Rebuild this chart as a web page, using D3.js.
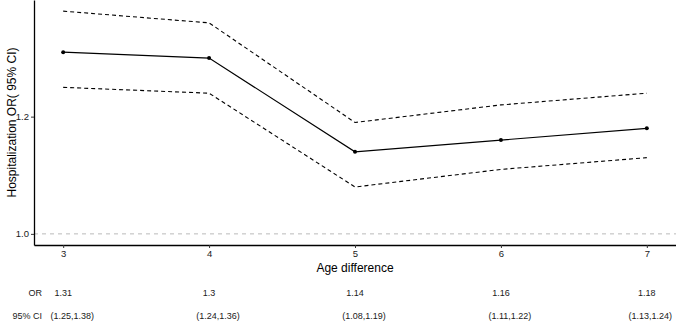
<!DOCTYPE html>
<html>
<head>
<meta charset="utf-8">
<script src="https://cdn.jsdelivr.net/npm/d3@7"></script>
<style>
  html, body { margin: 0; padding: 0; background: #fff; }
  svg { display: block; font-family: "Liberation Sans", Arial, sans-serif; }
</style>
</head>
<body>
<svg id="chart" width="676" height="323"></svg>
<script>
const ageDiff = [3, 4, 5, 6, 7];
const orValues = [1.31, 1.3, 1.14, 1.16, 1.18];
const ciLower = [1.25, 1.24, 1.08, 1.11, 1.13];
const ciUpper = [1.38, 1.36, 1.19, 1.22, 1.24];
const orLabels = ["1.31", "1.3", "1.14", "1.16", "1.18"];
const ciLabels = ["(1.25,1.38)", "(1.24,1.36)", "(1.08,1.19)", "(1.11,1.22)", "(1.13,1.24)"];
const yTicks = [1.0, 1.2];
const refValue = 1.0;

const svg = d3.select("#chart");
const mLeft = 34, mTop = 0, mBottom = 245, mRight = 676;

const x = d3.scaleLinear().domain([2.8, 7.2]).range([mLeft, mRight]);
const y = d3.scaleLinear().domain([0.981, 1.399]).range([mBottom, mTop]);

const rows = ageDiff.map((a, i) => ({ a, or: orValues[i], lo: ciLower[i], hi: ciUpper[i], orL: orLabels[i], ciL: ciLabels[i] }));

// reference line
svg.append("line")
  .attr("x1", mLeft).attr("x2", mRight)
  .attr("y1", y(refValue)).attr("y2", y(refValue))
  .attr("stroke", "#8c8c8c").attr("stroke-width", 0.6)
  .attr("stroke-dasharray", "4,4");

const line = key => d3.line().x(d => x(d.a)).y(d => y(d[key]));

svg.append("path").datum(rows).attr("d", line("hi"))
  .attr("fill", "none").attr("stroke", "#000").attr("stroke-width", 1.1).attr("stroke-dasharray", "4,3");
svg.append("path").datum(rows).attr("d", line("lo"))
  .attr("fill", "none").attr("stroke", "#000").attr("stroke-width", 1.1).attr("stroke-dasharray", "4,3");
svg.append("path").datum(rows).attr("d", line("or"))
  .attr("fill", "none").attr("stroke", "#000").attr("stroke-width", 1.2);
svg.selectAll("circle.pt").data(rows).enter().append("circle")
  .attr("class", "pt")
  .attr("cx", d => x(d.a)).attr("cy", d => y(d.or)).attr("r", 2).attr("fill", "#000");

// axes
const xAxis = d3.axisBottom(x).tickValues(ageDiff).tickFormat(d3.format("d")).tickSizeOuter(0).tickSizeInner(3).tickPadding(2);
const gx = svg.append("g").attr("transform", `translate(0,${mBottom})`).call(xAxis);
gx.select(".domain").attr("stroke", "#000").attr("stroke-width", 1.3);
gx.selectAll(".tick line").attr("stroke", "#333");
gx.selectAll(".tick text").attr("fill", "#1a1a1a").attr("font-size", 9.5);

const yAxis = d3.axisLeft(y).tickValues(yTicks).tickFormat(d3.format(".1f")).tickSizeOuter(0).tickSizeInner(3).tickPadding(2);
const gy = svg.append("g").attr("transform", `translate(${mLeft},0)`).call(yAxis);
gy.select(".domain").attr("stroke", "#000").attr("stroke-width", 1.3);
gy.selectAll(".tick line").attr("stroke", "#333");
gy.selectAll(".tick text").attr("fill", "#1a1a1a").attr("font-size", 9.5);

// axis titles
svg.append("text").attr("x", (mLeft + mRight) / 2).attr("y", 272)
  .attr("text-anchor", "middle").attr("font-size", 12).attr("fill", "#000").text("Age difference");
svg.append("text").attr("transform", `translate(16,${(mTop + mBottom) / 2}) rotate(-90)`)
  .attr("text-anchor", "middle").attr("font-size", 12).attr("fill", "#000").text("Hospitalization OR( 95% CI)");

// table
const fs = 9;
svg.append("text").attr("x", 42).attr("y", 296).attr("text-anchor", "end").attr("font-size", fs).attr("fill", "#1a1a1a").text("OR");
svg.append("text").attr("x", 42).attr("y", 319).attr("text-anchor", "end").attr("font-size", fs).attr("fill", "#1a1a1a").text("95% CI");
svg.selectAll("text.orv").data(rows).enter().append("text").attr("class", "orv")
  .attr("x", d => x(d.a)).attr("y", 296).attr("text-anchor", "middle")
  .attr("font-size", fs).attr("fill", "#1a1a1a").text(d => d.orL);
svg.selectAll("text.civ").data(rows).enter().append("text").attr("class", "civ")
  .attr("y", 319).attr("text-anchor", "middle")
  .attr("font-size", fs).attr("fill", "#1a1a1a").text(d => d.ciL)
  .each(function(d) {
    const half = this.getComputedTextLength() / 2;
    const cx = Math.min(x(d.a) + 9, mRight - 4 - half);
    d3.select(this).attr("x", cx);
  });
</script>
</body>
</html>
